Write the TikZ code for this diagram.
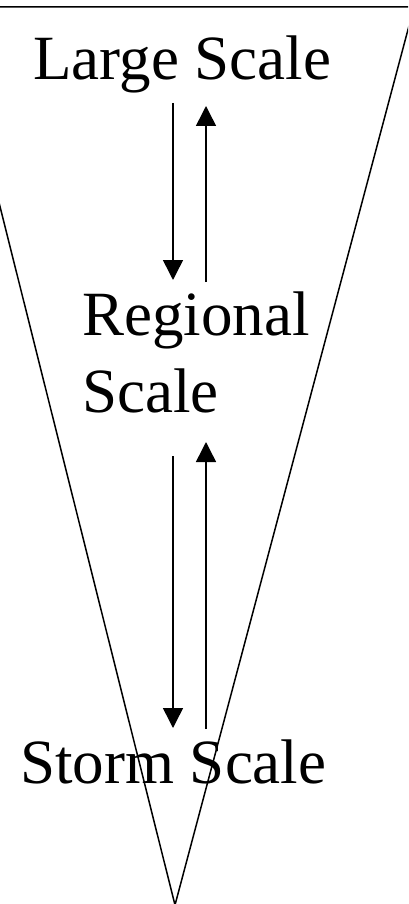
\documentclass[tikz,border=0pt]{standalone}
\usepackage{fontspec}
\setmainfont{Liberation Serif}
\usetikzlibrary{arrows.meta}
\tikzset{
  lbl/.style={inner sep=0pt, font=\fontsize{63}{77}\selectfont, align=left},
  edge/.style={line width=1.5pt},
  flow/.style={line width=1.5pt, -{Triangle[width=20pt,length=20pt]}}
}
\begin{document}
\begin{tikzpicture}[x=1pt,y=-1pt]
\useasboundingbox (0,0) rectangle (408,904);
\begin{scope}
\clip (0,0) rectangle (408,904);
\draw[edge] (-50,7) -- (414,7) -- (175,905) -- cycle;
\end{scope}
\node[lbl, anchor=base west] (large) at (33,80) {Large Scale};
\node[lbl, anchor=base west] (regional) at (82,412) {Regional\\Scale};
\node[lbl, anchor=base west] (storm) at (20,783) {Storm Scale};
\coordinate (d1s) at (173,103);
\coordinate (d1e) at (173,280);
\coordinate (u1s) at (206,282);
\coordinate (u1e) at (206,106);
\coordinate (d2s) at (173,456);
\coordinate (d2e) at (173,728);
\coordinate (u2s) at (206,729);
\coordinate (u2e) at (206,442);
\draw[flow] (d1s) -- (d1e);
\draw[flow] (u1s) -- (u1e);
\draw[flow] (d2s) -- (d2e);
\draw[flow] (u2s) -- (u2e);
\end{tikzpicture}
\end{document}
